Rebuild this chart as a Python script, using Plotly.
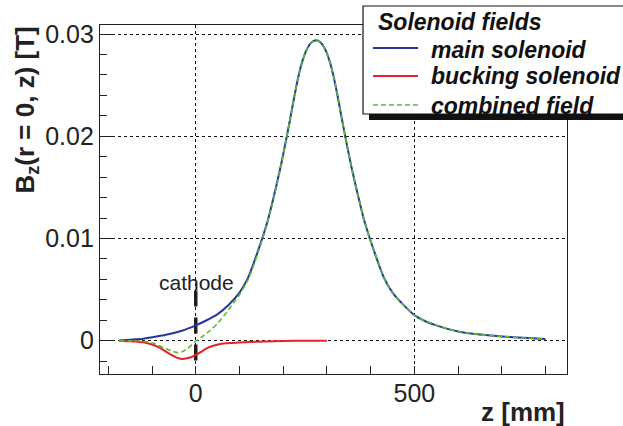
import plotly.graph_objects as go

# ---------------- data ----------------
z_main = [-175, -150, -120, -90, -60, -30, 0, 25, 50, 75, 100, 120, 130, 140, 152,
          165, 175, 185, 195, 205, 215, 225, 235, 245, 255, 265, 275, 285, 295, 305,
          315, 325, 335, 345, 355, 365, 375, 385, 398, 410, 420, 430, 450, 475, 500,
          525, 550, 600, 650, 700, 750, 800]
b_main = [0.00002, 0.0001, 0.0002, 0.0004, 0.00065, 0.001, 0.0015, 0.0020, 0.0026,
          0.0035, 0.0047, 0.0062, 0.0073, 0.0085, 0.0100, 0.0118, 0.0135, 0.0153,
          0.0172, 0.0193, 0.0215, 0.0238, 0.0259, 0.0275, 0.0286, 0.0292, 0.0294,
          0.0292, 0.0286, 0.0275, 0.0259, 0.0238, 0.0215, 0.0193, 0.0172, 0.0153,
          0.0135, 0.0118, 0.0100, 0.0085, 0.0073, 0.0062, 0.0047, 0.0035, 0.0025,
          0.0019, 0.0015, 0.0009, 0.0006, 0.00042, 0.00028, 0.00017]

z_buck = [-175, -150, -120, -100, -80, -60, -45, -32, -20, -10, 0, 12, 25, 40, 56,
          80, 100, 125, 160, 200, 250, 300]
b_buck = [0.0, -0.00005, -0.00016, -0.00038, -0.00075, -0.0013, -0.00163, -0.00179,
          -0.00172, -0.0016, -0.0014, -0.0011, -0.00076, -0.0005, -0.00032,
          -0.00022, -0.00017, -0.00012, -0.00007, -0.00003, -0.00001, 0.0]

z_comb = [-175, -150, -120, -97, -74, -51, -40, -30, -21, 0, 15, 33, 50, 71, 90, 100,
          120, 140, 160, 175, 185, 195, 205, 215, 225, 235, 245, 255, 265, 275, 285,
          295, 305, 315, 325, 335, 345, 355, 365, 375, 385, 398, 410, 420, 430, 450,
          475, 500, 525, 550, 600, 650, 700, 750, 800]
b_comb = [0.0, -0.00002, -0.00005, -0.00026, -0.00068, -0.00107, -0.00117, -0.00105,
          -0.00084, -0.00005, 0.0004, 0.0010, 0.0017, 0.0028, 0.0039, 0.0045, 0.0060,
          0.0083, 0.0110, 0.0134, 0.0152, 0.0172, 0.0193, 0.0215, 0.0238, 0.0259,
          0.0275, 0.0286, 0.0292, 0.0294, 0.0292, 0.0286, 0.0275, 0.0259, 0.0238,
          0.0215, 0.0193, 0.0172, 0.0153, 0.0135, 0.0118, 0.0100, 0.0085, 0.0073,
          0.0062, 0.0047, 0.0035, 0.0025, 0.0019, 0.0015, 0.0009, 0.0006, 0.00042,
          0.00028, 0.00017]

series_names = ["main solenoid", "bucking solenoid", "combined field"]
legend_title = "Solenoid fields"
x_title = "z [mm]"
y_title = "B<sub>z</sub>(r = 0, z) [T]"
cathode_label = "cathode"
cathode_z = 0
cathode_span = [0.0049, -0.0021]

X_RANGE = [-219, 849]
Y_RANGE = [-0.00326, 0.03089]

# ---------------- styling ----------------
W, H = 623, 426
ML, MR, MT, MB = 100, 56, 25, 52
PW, PH = W - ML - MR, H - MT - MB
FONT = "Liberation Sans, Arial, Helvetica, sans-serif"
TXT = "#222222"
BLUE, RED, GREEN = "#27369a", "#e8202a", "#5dbb2d"


def px(xp):
    return (xp - ML) / PW


def py(yp):
    return (H - MB - yp) / PH


fig = go.Figure()
fig.add_trace(go.Scatter(x=z_main, y=b_main, mode="lines", name=series_names[0],
                         line=dict(color=BLUE, width=2, shape="spline", smoothing=0.6)))
fig.add_trace(go.Scatter(x=z_buck, y=b_buck, mode="lines", name=series_names[1],
                         line=dict(color=RED, width=2, shape="spline", smoothing=0.6)))
fig.add_trace(go.Scatter(x=z_comb, y=b_comb, mode="lines", name=series_names[2],
                         line=dict(color=GREEN, width=1.6, dash="5px,3px",
                                   shape="spline", smoothing=0.6)))

shapes = []
# cathode marker
shapes.append(dict(type="line", xref="x", yref="y", x0=cathode_z, x1=cathode_z,
                   y0=cathode_span[0], y1=cathode_span[1], layer="below",
                   line=dict(color=TXT, width=3.5, dash="16px,11px")))
# legend shadow and box
shapes.append(dict(type="rect", xref="paper", yref="paper", x0=px(369), x1=px(650),
                   y0=py(120), y1=py(10), fillcolor="#111111", line=dict(width=0),
                   layer="above"))
shapes.append(dict(type="rect", xref="paper", yref="paper", x0=px(363), x1=px(645),
                   y0=py(114), y1=py(6), fillcolor="white",
                   line=dict(color="#111111", width=1.2), layer="above"))
# legend line samples
samples = [(48, BLUE, 2, "solid"), (76, RED, 2, "solid"), (105, GREEN, 1.6, "5px,3px")]
for yy, col, wd, ds in samples:
    shapes.append(dict(type="line", xref="paper", yref="paper", x0=px(373), x1=px(418),
                       y0=py(yy), y1=py(yy), layer="above",
                       line=dict(color=col, width=wd, dash=ds)))

annotations = []
annotations.append(dict(text=legend_title, xref="paper", yref="paper", x=px(376),
                        y=py(22), xanchor="left", yanchor="middle", showarrow=False,
                        font=dict(family=FONT, size=23, color="#111111",
                                  weight="bold", style="italic")))
for name, yy in zip(series_names, [50, 76, 106]):
    annotations.append(dict(text=name, xref="paper", yref="paper", x=px(429),
                            y=py(yy), xanchor="left", yanchor="middle", showarrow=False,
                            font=dict(family=FONT, size=23, color="#111111",
                                      weight="bold", style="italic")))
annotations.append(dict(text=cathode_label, xref="paper", yref="paper", x=px(196),
                        y=py(282), xanchor="center", yanchor="middle", showarrow=False,
                        font=dict(family=FONT, size=21, color=TXT)))
annotations.append(dict(text=x_title, xref="paper", yref="paper", x=1.0, y=py(412),
                        xanchor="right", yanchor="middle", showarrow=False,
                        font=dict(family=FONT, size=26, color=TXT, weight="bold")))
annotations.append(dict(text=y_title, xref="paper", yref="paper", x=px(26), y=1.0,
                        xanchor="center", yanchor="top", textangle=-90, showarrow=False,
                        font=dict(family=FONT, size=26, color=TXT, weight="bold")))

fig.update_layout(
    width=W, height=H, margin=dict(l=ML, r=MR, t=MT, b=MB),
    paper_bgcolor="white", plot_bgcolor="white", showlegend=False,
    shapes=shapes, annotations=annotations,
    font=dict(family=FONT, color=TXT),
)
fig.update_xaxes(range=X_RANGE, tick0=0, dtick=500, ticks="inside", ticklen=8,
                 tickwidth=1, tickcolor=TXT, showline=True, linecolor=TXT, linewidth=1.3,
                 mirror=True, showgrid=True, gridcolor="#111111", griddash="dot",
                 gridwidth=1, zeroline=False, ticklabelstandoff=-3,
                 tickfont=dict(family=FONT, size=25, color=TXT),
                 minor=dict(dtick=100, tick0=0, ticks="inside", ticklen=8,
                            tickcolor=TXT, showgrid=False))
fig.update_yaxes(range=Y_RANGE, tick0=0, dtick=0.01, ticks="inside", ticklen=15,
                 tickwidth=1, tickcolor=TXT, showline=True, linecolor=TXT, linewidth=1.3,
                 mirror=True, showgrid=True, gridcolor="#111111", griddash="dot",
                 gridwidth=1, zeroline=False, tickformat="~g",
                 tickfont=dict(family=FONT, size=25, color=TXT),
                 minor=dict(dtick=0.002, tick0=0, ticks="inside", ticklen=7,
                            tickcolor=TXT, showgrid=False))

fig.write_html("out.html", config={"displayModeBar": False},
               post_script="document.body.style.margin='0px';")
